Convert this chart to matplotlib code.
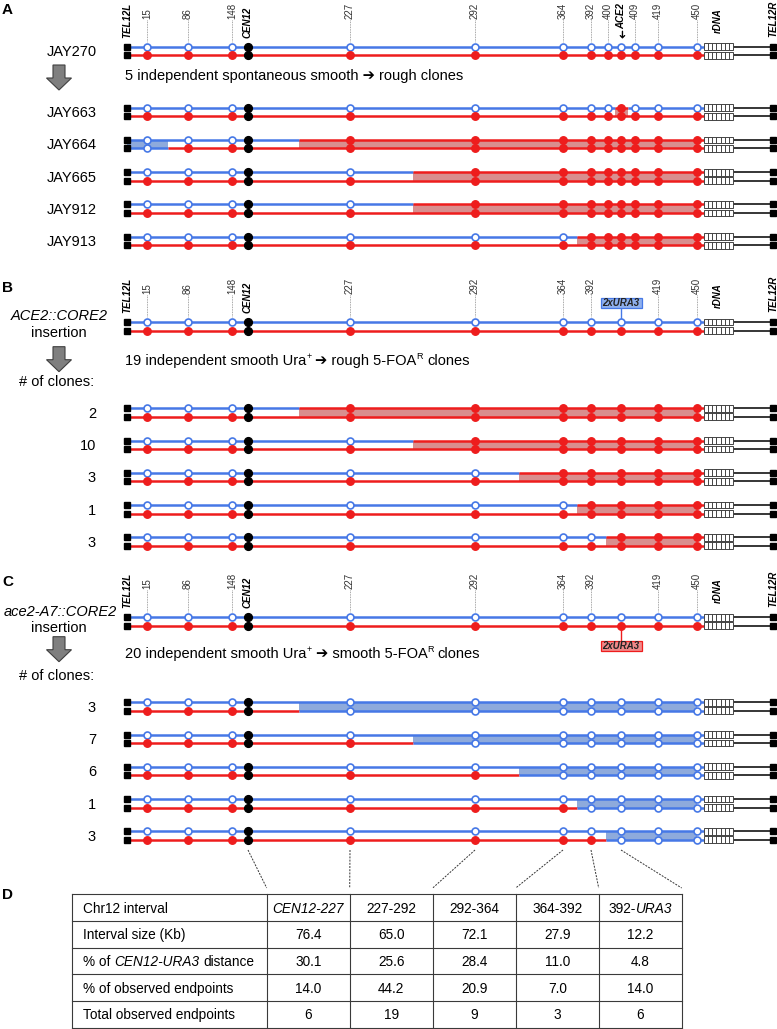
import matplotlib
matplotlib.use('Agg')
import matplotlib.pyplot as plt
from matplotlib.patches import Rectangle, Polygon

plt.rcParams['font.family'] = ['Liberation Sans', 'DejaVu Sans']

# ---------------- data ----------------
markers_a = ['15', '86', '148', 'CEN12', '227', '292', '364', '392', '400', 'ACE2', '409', '419', '450']
markers_bc = ['15', '86', '148', 'CEN12', '227', '292', '364', '392', 'URA3', '419', '450']

a_strains = ['JAY663', 'JAY664', 'JAY665', 'JAY912', 'JAY913']
a_top_tracts = [('400|ACE2', 'ACE2|409'), ('CEN12|227', 'rDNA'), ('227|292', 'rDNA'),
                ('227|292', 'rDNA'), ('364|392', 'rDNA')]
a_bottom_tracts = [None, ('TEL12L', '15|86'), None, None, None]

b_clone_counts = [2, 10, 3, 1, 3]
b_tract_starts = ['CEN12|227', '227|292', '292|364', '364|392', '392|URA3']
c_clone_counts = [3, 7, 6, 1, 3]
c_tract_starts = ['CEN12|227', '227|292', '292|364', '364|392', '392|URA3']

table_intervals = ['*CEN12-227*', '227-292', '292-364', '364-392', '392-*URA3*']
table_row_labels = ['Chr12 interval', 'Interval size (Kb)', '% of *CEN12-URA3* distance',
                    '% of observed endpoints', 'Total observed endpoints']
interval_size_kb = [76.4, 65.0, 72.1, 27.9, 12.2]
pct_cen_ura_distance = [30.1, 25.6, 28.4, 11.0, 4.8]
pct_observed_endpoints = [14.0, 44.2, 20.9, 7.0, 14.0]
total_observed_endpoints = [6, 19, 9, 3, 6]
table_boundary_markers = ['CEN12', '227', '292', '364', '392', 'URA3']

# ---------------- layout / style ----------------
W, H = 777, 1029
fig = plt.figure(figsize=(W / 100, H / 100), dpi=100)
ax = fig.add_axes([0, 0, 1, 1])
ax.set_xlim(0, W)
ax.set_ylim(H, 0)
ax.axis('off')
renderer = fig.canvas.get_renderer()

# schematic (non-linear) map positions
XPOS = {'TEL12L': 127, '15': 147, '86': 188, '148': 232, 'CEN12': 248, '227': 350,
        '292': 475, '364': 563, '392': 591, '400': 608, 'ACE2': 621, 'URA3': 621,
        '409': 635, '419': 658, '450': 697, 'rDNA': 704, 'rDNA_end': 733, 'TEL12R': 773}

BLUE = '#4678E6'
RED = '#EE1D1D'
RSHADE = '#D98E8E'
BSHADE = '#8EAADC'
LW = 1.8
MS = 5.0
GAP = 8.5
FS = 10.5


def pos(key):
    if '|' in key:
        a, b = key.split('|')
        return (XPOS[a] + XPOS[b]) / 2
    return XPOS[key]


def px(fs):
    return fs * 100 / 72


def ctext(x, yc, s, fs=FS, ha='left', **kw):
    return ax.text(x, yc + 0.358 * px(fs), s, fontsize=fs, ha=ha, va='baseline', **kw)


def rich_text(x, y, markup, fs=FS, ha='left', color='black', weight='normal'):
    segs = []
    italic = False
    sup = False
    buf = ''
    for ch in markup:
        if ch in '*^':
            if buf:
                segs.append((buf, italic, sup))
                buf = ''
            if ch == '*':
                italic = not italic
            else:
                sup = not sup
        else:
            buf += ch
    if buf:
        segs.append((buf, italic, sup))
    cur = x
    arts = []
    for s, it, sp in segs:
        f = fs * 0.62 if sp else fs
        lead = len(s) - len(s.lstrip(' '))
        trail = len(s) - len(s.rstrip(' '))
        cur += lead * 0.278 * px(fs)
        core = s.strip(' ')
        if core:
            t = ax.text(cur, y - (0.40 * px(fs) if sp else 0), core, fontsize=f,
                        style='italic' if it else 'normal', weight=weight, color=color,
                        ha='left', va='baseline')
            w = t.get_window_extent(renderer).width
            arts.append(t)
            cur += w
        cur += trail * 0.278 * px(fs)
    total = cur - x
    shift = {'left': 0, 'center': -total / 2, 'right': -total}[ha]
    for t in arts:
        xx, yy = t.get_position()
        t.set_position((xx + shift, yy))
    return arts


def segments(base, alt, tract):
    x0, x1 = XPOS['TEL12L'], XPOS['rDNA']
    if tract is None:
        return [(x0, x1, base)]
    a, b = pos(tract[0]), pos(tract[1])
    segs = []
    if a > x0:
        segs.append((x0, a, base))
    segs.append((a, b, alt))
    if b < x1:
        segs.append((b, x1, base))
    return segs


def draw_chromatid(y, segs, markers):
    for a, b, c in segs:
        ax.plot([a, b], [y, y], color=c, lw=LW, solid_capstyle='butt', zorder=2)
    ax.plot([XPOS['TEL12L']], [y], 's', color='black', ms=4.4, zorder=4)
    x0, x1 = XPOS['rDNA'], XPOS['rDNA_end']
    ax.add_patch(Rectangle((x0, y - 3.4), x1 - x0, 6.8, fc='white', ec='#444444', lw=0.7, zorder=3))
    ncell = 7
    for k in range(1, ncell):
        xx = x0 + k * (x1 - x0) / ncell
        ax.plot([xx, xx], [y - 3.4, y + 3.4], color='#444444', lw=0.7, zorder=3)
    ax.plot([x1, XPOS['TEL12R']], [y, y], color='black', lw=1.1, zorder=2)
    ax.plot([XPOS['TEL12R']], [y], 's', color='black', ms=4.4, zorder=4)
    for m in markers:
        x = XPOS[m]
        if m == 'CEN12':
            ax.plot([x], [y], 'o', color='black', ms=MS + 0.6, zorder=5)
            continue
        col = segs[-1][2]
        for a, b, c in segs:
            if a <= x < b:
                col = c
                break
        if col == BLUE:
            ax.plot([x], [y], 'o', mfc='white', mec=BLUE, mew=1.2, ms=MS, zorder=5)
        else:
            ax.plot([x], [y], 'o', mfc=RED, mec=RED, mew=1.0, ms=MS + 0.4, zorder=5)


def draw_pair(y_top, markers, top_base=BLUE, bot_base=RED, top_tract=None, bot_tract=None):
    y_bot = y_top + GAP
    top_alt = RED if top_base == BLUE else BLUE
    bot_alt = RED if bot_base == BLUE else BLUE
    for tract, alt in ((top_tract, top_alt), (bot_tract, bot_alt)):
        if tract:
            a = pos(tract[0])
            b = min(pos(tract[1]), XPOS['450'])
            ax.add_patch(Rectangle((a, y_top), b - a, GAP, fc=RSHADE if alt == RED else BSHADE,
                                   ec='none', zorder=1))
    draw_chromatid(y_top, segments(top_base, top_alt, top_tract), markers)
    draw_chromatid(y_bot, segments(bot_base, bot_alt, bot_tract), markers)


def header_labels(y_top, markers):
    ylab = y_top - 28
    for m in markers:
        x = XPOS[m]
        if m.isdigit():
            ax.text(x, ylab, m, rotation=90, ha='center', va='bottom', fontsize=7, color='#333333')
            ax.plot([x, x], [ylab + 1, y_top - 5], color='#8a8a8a', lw=0.6, ls=(0, (1, 1)), zorder=1)
        elif m == 'CEN12':
            ax.text(x, y_top - 9, 'CEN12', rotation=90, ha='center', va='bottom', fontsize=7,
                    weight='bold', style='italic')
        elif m == 'ACE2':
            ax.text(x, y_top - 18, 'ACE2', rotation=90, ha='center', va='bottom', fontsize=7,
                    weight='bold', style='italic')
            ax.text(x, y_top - 13, '\u279C', rotation=-90, ha='center', va='center', fontsize=8,
                    weight='bold', family=['DejaVu Sans'])
    ax.text(XPOS['TEL12L'], y_top - 9, 'TEL12L', rotation=90, ha='center', va='bottom', fontsize=7,
            weight='bold', style='italic')
    ax.text(718, y_top - 14, 'rDNA', rotation=90, ha='center', va='bottom', fontsize=7,
            weight='bold', style='italic')
    ax.text(XPOS['TEL12R'], y_top - 10, 'TEL12R', rotation=90, ha='center', va='bottom', fontsize=7,
            weight='bold', style='italic')


def ura3_box(y_line, above, face, edge):
    x = XPOS['URA3']
    bw, bh = 41, 10.5
    if above:
        by = y_line - 24.5
        ax.plot([x, x], [by + bh, y_line], color=edge, lw=1.0, zorder=2)
    else:
        by = y_line + 15
        ax.plot([x, x], [y_line, by], color=edge, lw=1.0, zorder=2)
    ax.add_patch(Rectangle((x - bw / 2, by), bw, bh, fc=face, ec=edge, lw=0.9, zorder=3))
    ctext(x, by + bh / 2, '2xURA3', fs=6.9, ha='center', weight='bold', style='italic',
          color='#222222', zorder=4)


def block_arrow(xc, ytop):
    pts = [(xc - 6, ytop), (xc + 6, ytop), (xc + 6, ytop + 13), (xc + 12.5, ytop + 13),
           (xc, ytop + 25), (xc - 12.5, ytop + 13), (xc - 6, ytop + 13)]
    ax.add_patch(Polygon(pts, closed=True, fc='#7F7F7F', ec='#3F3F3F', lw=0.8, zorder=3))


ROW_STEP = 32.25
LABEL_X = 59
RIGHT_X = 97

# ---------------- panel A ----------------
ax.text(2, 14, 'A', fontsize=11, weight='bold', va='baseline')
ya = 46.7
header_labels(ya, markers_a)
draw_pair(ya, markers_a)
ctext(RIGHT_X, ya + GAP / 2, 'JAY270', ha='right')
block_arrow(LABEL_X, 65)
rich_text(125, 80, '5 independent spontaneous smooth \u2794 rough clones')
ya0 = 107.7
for i, name in enumerate(a_strains):
    y = ya0 + i * ROW_STEP
    draw_pair(y, markers_a, top_tract=a_top_tracts[i], bot_tract=a_bottom_tracts[i])
    ctext(RIGHT_X, y + GAP / 2, name, ha='right')

# ---------------- panel B ----------------
ax.text(2, 291.7, 'B', fontsize=11, weight='bold', va='baseline')
yb = 322
header_labels(yb, markers_bc)
draw_pair(yb, markers_bc)
ura3_box(yb, True, '#8FB0EE', BLUE)
ax.text(LABEL_X, 320.5, 'ACE2::CORE2', fontsize=FS, style='italic', ha='center', va='baseline')
ax.text(LABEL_X, 337, 'insertion', fontsize=FS, ha='center', va='baseline')
block_arrow(LABEL_X, 346.7)
ax.text(LABEL_X - 2, 385.5, '# of clones:', fontsize=FS, ha='center', va='baseline')
rich_text(125, 365, '19 independent smooth Ura^+^ \u2794 rough 5-FOA^R^ clones')
yb0 = 408.3
for i, n in enumerate(b_clone_counts):
    y = yb0 + i * ROW_STEP
    draw_pair(y, markers_bc, top_tract=(b_tract_starts[i], 'rDNA'))
    ctext(RIGHT_X - 1, y + GAP / 2, str(n), ha='right')

# ---------------- panel C ----------------
ax.text(2, 586, 'C', fontsize=11, weight='bold', va='baseline')
yc = 617.3
header_labels(yc, markers_bc)
draw_pair(yc, markers_bc)
ura3_box(yc + GAP, False, '#F08A8A', RED)
ax.text(LABEL_X + 1, 616, 'ace2-A7::CORE2', fontsize=FS, style='italic', ha='center', va='baseline')
ax.text(LABEL_X, 632.5, 'insertion', fontsize=FS, ha='center', va='baseline')
block_arrow(LABEL_X, 636.7)
ax.text(LABEL_X - 2, 680, '# of clones:', fontsize=FS, ha='center', va='baseline')
rich_text(125, 658, '20 independent smooth Ura^+^ \u2794 smooth 5-FOA^R^ clones')
yc0 = 702.3
for i, n in enumerate(c_clone_counts):
    y = yc0 + i * ROW_STEP
    draw_pair(y, markers_bc, bot_tract=(c_tract_starts[i], 'rDNA'))
    ctext(RIGHT_X - 1, y + GAP / 2, str(n), ha='right')

# ---------------- panel D (table) ----------------
ax.text(2, 899, 'D', fontsize=11, weight='bold', va='baseline')
TFS = 9.8
tx0, tx1 = 71.7, 266.7
col_w = 83
ty0, row_h = 894.3, 26.7
col_edges = [tx0, tx1] + [tx1 + col_w * (i + 1) for i in range(len(table_intervals))]
n_rows = len(table_row_labels)
for i in range(n_rows + 1):
    ax.plot([col_edges[0], col_edges[-1]], [ty0 + i * row_h] * 2, color='#3a3a3a', lw=0.8)
for xe in col_edges:
    ax.plot([xe, xe], [ty0, ty0 + n_rows * row_h], color='#3a3a3a', lw=0.8)

table_values = [table_intervals,
                [f'{v:.1f}' for v in interval_size_kb],
                [f'{v:.1f}' for v in pct_cen_ura_distance],
                [f'{v:.1f}' for v in pct_observed_endpoints],
                [str(v) for v in total_observed_endpoints]]
for r, lab in enumerate(table_row_labels):
    yb_ = ty0 + (r + 0.5) * row_h + 0.358 * px(TFS)
    rich_text(83, yb_, lab, fs=TFS)
    for c, val in enumerate(table_values[r]):
        xc_ = (col_edges[c + 1] + col_edges[c + 2]) / 2
        rich_text(xc_, yb_, val, fs=TFS, ha='center')

for k, m in enumerate(table_boundary_markers):
    ax.plot([XPOS[m], col_edges[k + 1]], [850, 888], color='#333333', lw=0.7, ls=(0, (2, 1.3)))

fig.savefig('out.png', dpi=100)
